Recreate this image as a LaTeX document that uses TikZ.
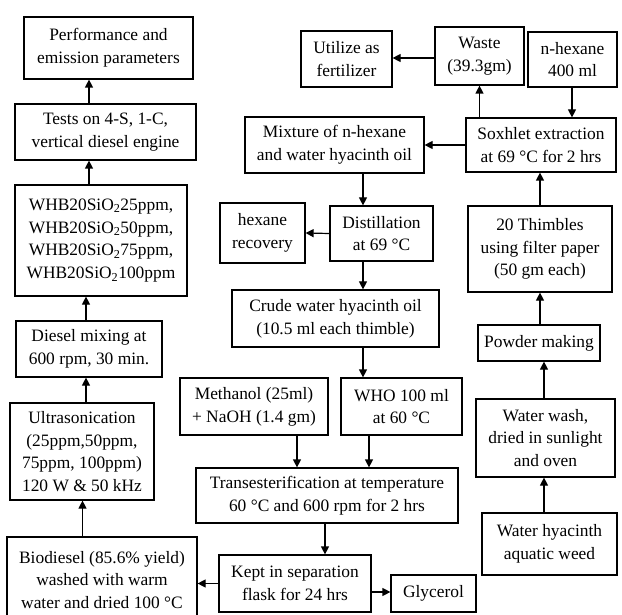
\documentclass[tikz,border=0pt]{standalone}
\usepackage{fontspec}
\setmainfont{Liberation Serif}
\usetikzlibrary{arrows.meta}
\begin{document}
\begin{tikzpicture}[x=1pt,y=-1pt,
  box/.style={draw, line width=1.2pt, align=center, inner sep=0pt,
    font=\fontsize{17.4pt}{22.7pt}\selectfont},
  arr/.style={line width=1.2pt, -{Triangle[length=8pt,width=8pt]}}]
\useasboundingbox (0,0) rectangle (622,615);
\clip (0,0) rectangle (622,615);
% left column
\node[box, minimum width=169pt, minimum height=62pt] (perf) at (108.5,48) {Performance and\\emission parameters};
\node[box, minimum width=181pt, minimum height=56pt] (tests) at (105.5,132) {Tests on 4-S, 1-C,\\vertical diesel engine};
\node[box, minimum width=172pt, minimum height=111pt] (whb) at (101,240.5) {WHB20SiO\textsubscript{2}25ppm,\\WHB20SiO\textsubscript{2}50ppm,\\WHB20SiO\textsubscript{2}75ppm,\\WHB20SiO\textsubscript{2}100ppm};
\node[box, minimum width=146pt, minimum height=56pt] (diesel) at (89,349) {Diesel mixing at\\600 rpm, 30 min.};
\node[box, minimum width=144pt, minimum height=97pt] (ultra) at (82,451.5) {Ultrasonication\\(25ppm,50ppm,\\75ppm, 100ppm)\\120 W \& 50 kHz};
\node[box, minimum width=190pt, minimum height=86pt] (bio) at (102,580) {Biodiesel (85.6\% yield)\\washed with warm\\water and dried 100 °C};
% top right
\node[box, minimum width=91pt, minimum height=56pt] (util) at (346.5,59) {Utilize as\\fertilizer};
\node[box, minimum width=89pt, minimum height=58pt] (waste) at (479.5,56) {Waste\\(39.3gm)};
\node[box, minimum width=89pt, minimum height=55pt] (nhex) at (572.5,59.5) {n-hexane\\400 ml};
\node[box, minimum width=179pt, minimum height=56pt] (mix) at (334.5,145) {Mixture of n-hexane\\and water hyacinth oil};
\node[box, minimum width=150pt, minimum height=54pt] (sox) at (541,145) {Soxhlet extraction\\at 69 °C for 2 hrs};
\node[box, minimum width=85pt, minimum height=60pt] (hexrec) at (262.5,233) {hexane\\recovery};
\node[box, minimum width=103pt, minimum height=55pt] (distil) at (381.5,233.5) {Distillation\\at 69 °C};
\node[box, minimum width=144pt, minimum height=86pt] (thimb) at (540,249) {20 Thimbles\\using filter paper\\(50 gm each)};
\node[box, minimum width=207pt, minimum height=57pt] (crude) at (335.5,318.5) {Crude water hyacinth oil\\(10.5 ml each thimble)};
\node[box, minimum width=122pt, minimum height=36pt] (powder) at (539,343) {Powder making};
\node[box, minimum width=148pt, minimum height=57pt] (meth) at (254,406.5) {Methanol (25ml)\\+ NaOH (1.4 gm)};
\node[box, minimum width=121pt, minimum height=57pt] (who) at (401.5,406.5) {WHO 100 ml\\at 60 °C};
\node[box, minimum width=139pt, minimum height=78pt] (wash) at (545.5,438) {Water wash,\\dried in sunlight\\and oven};
\node[box, minimum width=262pt, minimum height=55pt] (trans) at (327,495.5) {Transesterification at temperature\\60 °C and 600 rpm for 2 hrs};
\node[box, minimum width=135pt, minimum height=62pt] (hyac) at (549.5,544) {Water hyacinth\\aquatic weed};
\node[box, minimum width=152pt, minimum height=57pt] (kept) at (295,583.5) {Kept in separation\\flask for 24 hrs};
\node[box, minimum width=85pt, minimum height=37pt] (glyc) at (433.5,593.5) {Glycerol};
% arrow guide coordinates
\coordinate (xA) at (89,0);
\coordinate (xB) at (86,0);
\coordinate (xC) at (82.5,0);
\coordinate (xM) at (363,0);
\coordinate (xMe) at (297,0);
\coordinate (xW) at (369,0);
\coordinate (xT) at (325,0);
\coordinate (xN) at (572,0);
\coordinate (xS) at (540,0);
\coordinate (xH) at (544,0);
\coordinate (yU) at (0,58);
\coordinate (yG) at (0,592);
% left column arrows
\draw[arr] (tests.north -| xA) -- (perf.south -| xA);
\draw[arr] (whb.north -| xA) -- (tests.south -| xA);
\draw[arr] (diesel.north -| xB) -- (whb.south -| xB);
\draw[arr] (ultra.north -| xB) -- (diesel.south -| xB);
\draw[arr] (bio.north -| xC) -- (ultra.south -| xC);
% middle arrows
\draw[arr] (waste.west |- yU) -- (util.east |- yU);
\draw[arr] (sox.north -| waste) -- (waste.south);
\draw[arr] (nhex.south -| xN) -- (sox.north -| xN);
\draw[arr] (sox.west) -- (mix.east);
\draw[arr] (mix.south -| xM) -- (distil.north -| xM);
\draw[arr] (distil.west) -- (hexrec.east);
\draw[arr] (distil.south -| xM) -- (crude.north -| xM);
\draw[arr] (crude.south -| xM) -- (who.north -| xM);
\draw[arr] (meth.south -| xMe) -- (trans.north -| xMe);
\draw[arr] (who.south -| xW) -- (trans.north -| xW);
\draw[arr] (trans.south -| xT) -- (kept.north -| xT);
\draw[arr] (kept.west) -- (bio.east |- kept.west);
\draw[arr] (kept.east |- yG) -- (glyc.west |- yG);
% right column arrows
\draw[arr] (thimb.north -| xS) -- (sox.south -| xS);
\draw[arr] (powder.north -| xS) -- (thimb.south -| xS);
\draw[arr] (wash.north -| xH) -- (powder.south -| xH);
\draw[arr] (hyac.north -| xH) -- (wash.south -| xH);
\end{tikzpicture}
\end{document}
